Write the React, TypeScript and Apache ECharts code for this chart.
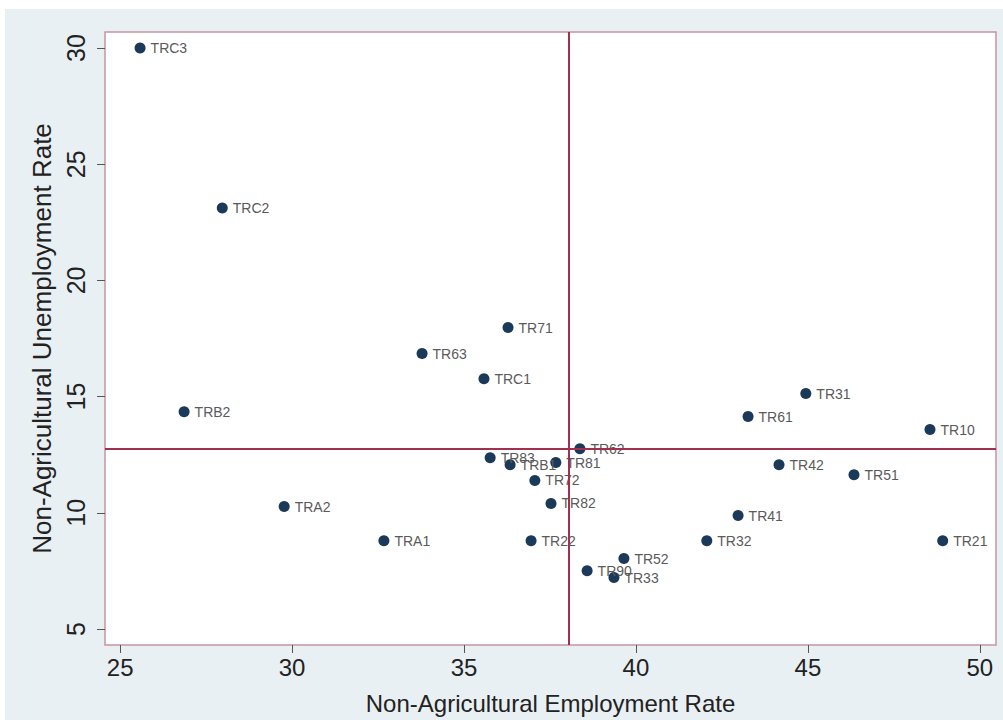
import React, { useEffect, useRef } from "react";
import * as echarts from "echarts";

const regionNames = [
  "TRC3", "TRC2", "TR71", "TR63", "TRC1", "TRB2", "TR31", "TR61", "TR10", "TR62",
  "TR83", "TRB1", "TR81", "TR42", "TR51", "TR72", "TRA2", "TR82", "TR41", "TRA1",
  "TR22", "TR32", "TR21", "TR52", "TR90", "TR33",
];
const employmentRate = [
  25.58, 27.97, 36.28, 33.78, 35.58, 26.86, 44.94, 43.26, 48.55, 38.37,
  35.76, 36.34, 37.67, 44.16, 46.34, 37.06, 29.77, 37.53, 42.97, 32.67,
  36.95, 42.06, 48.92, 39.65, 38.58, 39.36,
];
const unemploymentRate = [
  30.0, 23.12, 17.97, 16.85, 15.77, 14.35, 15.13, 14.14, 13.58, 12.76,
  12.37, 12.07, 12.16, 12.07, 11.64, 11.39, 10.27, 10.4, 9.88, 8.8,
  8.8, 8.8, 8.8, 8.03, 7.51, 7.21,
];
const xTicks = [25, 30, 35, 40, 45, 50];
const yTicks = [5, 10, 15, 20, 25, 30];
const meanEmployment = 38.05;
const meanUnemployment = 12.76;

export default function App() {
  const ref = useRef<HTMLDivElement>(null);
  useEffect(() => {
    if (!ref.current) return;
    const chart = echarts.init(ref.current, null, { renderer: "svg" });
    const font = "Liberation Sans, Arial, sans-serif";
    const points = regionNames.map((n, i) => ({
      name: n,
      value: [employmentRate[i], unemploymentRate[i]],
    }));
    chart.setOption({
      animation: false,
      backgroundColor: "#e9f0f3",
      graphic: [
        { type: "rect", shape: { x: 0, y: 0, width: 1003, height: 9 }, style: { fill: "#ffffff" }, silent: true },
        { type: "rect", shape: { x: 0, y: 0, width: 5, height: 720 }, style: { fill: "#ffffff" }, silent: true },
      ],
      grid: {
        left: 105,
        top: 32,
        width: 891,
        height: 613,
        show: true,
        backgroundColor: "#ffffff",
        borderColor: "#c8949e",
        borderWidth: 1.5,
      },
      xAxis: {
        type: "value",
        min: 24.56,
        max: 50.47,
        name: "Non-Agricultural Employment Rate",
        nameLocation: "middle",
        nameGap: 46,
        nameTextStyle: { fontFamily: font, fontSize: 24, color: "#222" },
        axisLine: { show: false },
        splitLine: { show: false },
        axisTick: { show: true, length: 8, customValues: xTicks, lineStyle: { color: "#555", width: 1 } },
        axisLabel: { customValues: xTicks, fontFamily: font, fontSize: 24, color: "#222", margin: 10 },
      },
      yAxis: {
        type: "value",
        min: 4.31,
        max: 30.69,
        name: "Non-Agricultural Unemployment Rate",
        nameLocation: "middle",
        nameGap: 45,
        nameTextStyle: { fontFamily: font, fontSize: 26, color: "#222" },
        axisLine: { show: false },
        splitLine: { show: false },
        axisTick: { show: true, length: 8, customValues: yTicks, lineStyle: { color: "#555", width: 1 } },
        axisLabel: { customValues: yTicks, rotate: 90, fontFamily: font, fontSize: 25, color: "#222", margin: 17 },
      },
      series: [
        {
          type: "scatter",
          data: [],
          z: 1,
          markLine: {
            silent: true,
            symbol: "none",
            label: { show: false },
            lineStyle: { color: "#a0304e", width: 2, type: "solid" },
            data: [{ xAxis: meanEmployment }, { yAxis: meanUnemployment }],
          },
        },
        {
          type: "scatter",
          z: 3,
          data: points,
          symbolSize: 11,
          itemStyle: { color: "#1b3a5a", opacity: 1 },
          label: {
            show: true,
            position: "right",
            distance: 5,
            formatter: "{b}",
            fontFamily: font,
            fontSize: 14,
            color: "#5a5a5a",
          },
        },
      ],
    });
    return () => chart.dispose();
  }, []);
  return <div ref={ref} style={{ position: "fixed", left: 0, top: 0, width: 1003, height: 720 }} />;
}
